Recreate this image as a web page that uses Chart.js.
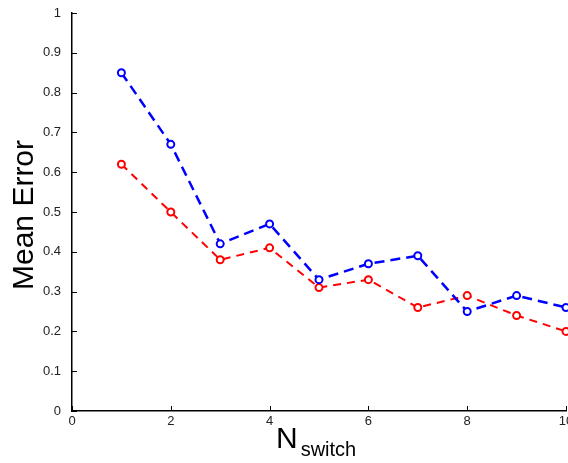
<!DOCTYPE html>
<html>
<head>
<meta charset="utf-8">
<script src="https://cdn.jsdelivr.net/npm/chart.js@4.4.1/dist/chart.umd.min.js"></script>
<style>
html,body{margin:0;padding:0;background:#fff;}
#wrap{position:relative;width:568px;height:463px;overflow:hidden;}
canvas{position:absolute;left:0;top:0;}
#ytitle{position:absolute;left:23px;top:215px;transform:translate(-50%,-50%) rotate(-90deg);font:30px "Liberation Sans",Arial,sans-serif;color:#000;white-space:nowrap;}
#xtitle{position:absolute;left:276px;top:423px;font:30px "Liberation Sans",Arial,sans-serif;color:#000;white-space:nowrap;line-height:1;}
#xtitle sub{font-size:20px;vertical-align:baseline;position:relative;top:8px;margin-left:3px;}
</style>
</head>
<body>
<div id="wrap">
<canvas id="c" width="568" height="463"></canvas>
<div id="ytitle">Mean Error</div>
<div id="xtitle">N<sub>switch</sub></div>
</div>
<script>
const xValues = [1,2,3,4,5,6,7,8,9,10];
const blueValues = [0.85,0.67,0.42,0.47,0.33,0.37,0.39,0.25,0.29,0.26];
const redValues  = [0.62,0.50,0.38,0.41,0.31,0.33,0.26,0.29,0.24,0.20];
const xTicks = [0,2,4,6,8,10];
const yTicks = [0,0.1,0.2,0.3,0.4,0.5,0.6,0.7,0.8,0.9,1];

const toPts = (vals) => xValues.map((x,i)=>({x:x,y:vals[i]}));

const innerTicks = {
  id:'innerTicks',
  afterDraw(chart){
    const ctx = chart.ctx, xs = chart.scales.x, ys = chart.scales.y;
    ctx.save();
    ctx.strokeStyle = '#000';
    ctx.lineWidth = 1;
    ctx.beginPath();
    xTicks.forEach(v=>{
      const px = Math.round(xs.getPixelForValue(v))+0.5;
      ctx.moveTo(px, ys.bottom); ctx.lineTo(px, ys.bottom-5);
    });
    yTicks.forEach(v=>{
      const py = Math.round(ys.getPixelForValue(v))+0.5;
      ctx.moveTo(xs.left, py); ctx.lineTo(xs.left+5, py);
    });
    ctx.stroke();
    ctx.restore();
  }
};

new Chart(document.getElementById('c'), {
  type:'line',
  data:{
    datasets:[
      {data:toPts(blueValues), borderColor:'#0000ff', backgroundColor:'rgba(0,0,0,0)', borderWidth:2.5, borderDash:[10,6], pointRadius:3.5, pointBorderWidth:2, pointBackgroundColor:'#fff', pointBorderColor:'#0000ff', tension:0, order:1, clip:false},
      {data:toPts(redValues), borderColor:'#ff0000', backgroundColor:'rgba(0,0,0,0)', borderWidth:2, borderDash:[8,6], pointRadius:3.5, pointBorderWidth:2, pointBackgroundColor:'#fff', pointBorderColor:'#ff0000', tension:0, order:2, clip:false}
    ]
  },
  options:{
    responsive:false, animation:false,
    layout:{autoPadding:false, padding:{top:13,right:2,left:0,bottom:0}},
    plugins:{legend:{display:false}, tooltip:{enabled:false}},
    scales:{
      x:{type:'linear', min:0, max:10,
        afterBuildTicks(s){ s.ticks = xTicks.map(v=>({value:v})); },
        afterFit(s){ s.height = 52; s.paddingLeft = 0; s.paddingRight = 0; },
        grid:{display:false, drawTicks:false},
        border:{display:true, color:'#000', width:1.5},
        ticks:{padding:3, color:'#222', font:{family:'"Liberation Sans Narrow","Liberation Sans",Arial', size:13}, maxRotation:0, autoSkip:false}
      },
      y:{type:'linear', min:0, max:1,
        afterBuildTicks(s){ s.ticks = yTicks.map(v=>({value:v})); },
        afterFit(s){ s.width = 72; s.paddingTop = 0; s.paddingBottom = 0; },
        grid:{display:false, drawTicks:false},
        border:{display:true, color:'#000', width:1.5},
        ticks:{padding:11, color:'#222', font:{family:'"Liberation Sans Narrow","Liberation Sans",Arial', size:13}, callback:(v)=>String(+v.toFixed(1))}
      }
    }
  },
  plugins:[innerTicks]
});
</script>
</body>
</html>
